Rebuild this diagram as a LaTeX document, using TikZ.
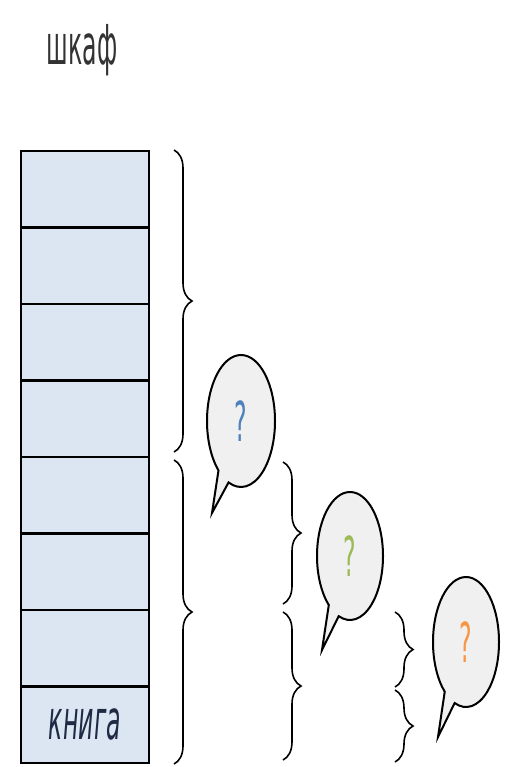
\documentclass[tikz,border=0pt]{standalone}
\usepackage{fontspec}
\setmainfont{DejaVu Sans}
\usetikzlibrary{positioning,shapes.callouts,decorations.pathreplacing}

\definecolor{shelfblue}{HTML}{DCE6F2}
\definecolor{bubblegray}{HTML}{F0F0F0}
\definecolor{darktext}{HTML}{333333}
\definecolor{bookink}{HTML}{1F2A44}
\definecolor{qblue}{HTML}{4F81BD}
\definecolor{qgreen}{HTML}{9BBB59}
\definecolor{qorange}{HTML}{F79646}

\newcommand{\bigfont}{\fontsize{55}{60}\selectfont}
\newcommand{\narrow}[1]{\scalebox{0.43}[1]{#1}}

\begin{document}
\begin{tikzpicture}[x=1pt, y=-1pt, line width=2pt,
    shelf/.style = {draw, line width=2.6pt, fill=shelfblue, minimum width=128pt, minimum height=76.5pt, inner sep=0pt, outer sep=0pt},
    bubble/.style = {draw, ellipse callout, callout pointer arc=20, fill=bubblegray, minimum width=68pt, minimum height=132pt, inner sep=0pt, font=\bigfont},
    curly/.style = {decorate, decoration={brace, amplitude=18pt}, line width=1.6pt}]
    \useasboundingbox (0,0) rectangle (505,767);

    \node[anchor=base, font=\bigfont, text=darktext] (title) at (82,65) {\narrow{шкаф}};

    % the shelves
    \node[shelf] (s1) at (85,189.25) {};
    \node[shelf, below=0pt of s1] (s2) {};
    \node[shelf, below=0pt of s2] (s3) {};
    \node[shelf, below=0pt of s3] (s4) {};
    \node[shelf, below=0pt of s4] (s5) {};
    \node[shelf, below=0pt of s5] (s6) {};
    \node[shelf, below=0pt of s6] (s7) {};
    \node[shelf, below=0pt of s7, font=\bigfont\itshape, text=bookink] (s8) {\narrow{книга}};

    % halves
    \draw[curly] (174,150) -- (174,452);
    \draw[curly] (174,460) -- (174,764);
    \draw[curly] (283,462) -- (283,604);
    \draw[curly] (283,612) -- (283,760);
    \draw[curly] (395,612) -- (395,687);
    \draw[curly] (395,690) -- (395,762);

    % questions
    \node[bubble, text=qblue, callout absolute pointer={(212,513)}] (q1) at (241,421) {\narrow{?}};
    \node[bubble, text=qgreen, minimum width=66pt, minimum height=128pt, callout absolute pointer={(322,650)}] (q2) at (350,556) {\narrow{?}};
    \node[bubble, text=qorange, minimum width=66pt, minimum height=130pt, callout absolute pointer={(438,737)}] (q3) at (466,642) {\narrow{?}};
\end{tikzpicture}
\end{document}
